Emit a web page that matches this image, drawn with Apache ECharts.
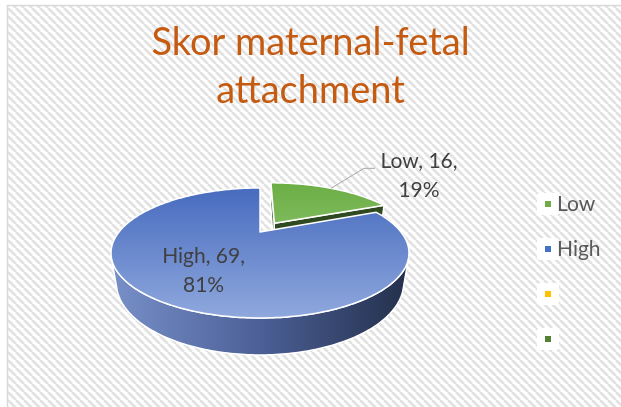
<!DOCTYPE html>
<html>
<head>
<meta charset="utf-8">
<script src="https://cdn.jsdelivr.net/npm/echarts@6/dist/echarts.min.js"></script>
<style>
  html, body { margin: 0; padding: 0; background: #ffffff; }
  #chart { width: 621px; height: 407px; }
</style>
</head>
<body>
<div id="chart"></div>
<script>
// Categories and counts of the maternal-fetal attachment score
const categories = ['Low', 'High', ' ', '  '];
const counts = [16, 69, 0, 0];
const titleLines = ['Skor maternal-fetal', 'attachment'];

// Styling
const palette = ['#70ad47', '#4472c4', '#ffc000', '#548235'];
const FONT = 'Lato, "Open Sans", sans-serif';

const total = counts.reduce((a, b) => a + b, 0);
const starts = [];
let running = 0;
counts.forEach(v => { starts.push(running); running += v; });

// 3D pie geometry (screen pixels) and perspective camera
const PIE = {
  cxFrac: 0.4187, cyFrac: 0.570,
  radius: 141, depth: 32, camDist: 398, tilt: 24.4,
  explodeSmall: 27
};
const sinA = Math.sin(PIE.tilt * Math.PI / 180);
const cosA = Math.cos(PIE.tilt * Math.PI / 180);

// Face colours per slice: top gradient, wall gradient
const faceStyles = {
  Low: { top: ['#6cae46', '#a8d68d'], wall: ['#4d7336', '#2f4a20'] },
  High: { top: ['#4569bd', '#90a9de'], wall: ['#7890c8', '#4c6097', '#232f4a'] }
};

function makeHatch() {
  const c = document.createElement('canvas');
  c.width = 8; c.height = 8;
  const g = c.getContext('2d');
  g.fillStyle = '#ffffff';
  g.fillRect(0, 0, 8, 8);
  g.strokeStyle = '#e2e2e2';
  g.lineWidth = 2.7;
  g.beginPath();
  [-8, 0, 8].forEach(o => { g.moveTo(o, 0); g.lineTo(o + 8, 8); });
  g.stroke();
  return c;
}

function renderSlice(params, api) {
  const value = api.value(0);
  if (!value) return null;
  const startVal = api.value(1);
  const name = categories[params.dataIndex];
  const W = api.getWidth(), Hh = api.getHeight();
  const cx = W * PIE.cxFrac, cy = Hh * PIE.cyFrac;
  const R = PIE.radius, T = PIE.depth, D = PIE.camDist;

  const project = (x, y, z) => {
    const yv = y * cosA + z * sinA;
    const zv = z * cosA - y * sinA;
    const f = D / (D + zv);
    return [cx + x * f, cy - yv * f];
  };

  // angles clockwise from 12 o'clock
  const t0 = startVal / total * Math.PI * 2;
  const t1 = (startVal + value) / total * Math.PI * 2;
  const tm = (t0 + t1) / 2;
  const share = value / total;
  const ex = share < 0.25 ? PIE.explodeSmall : 0;
  const ox = ex * Math.sin(tm), oz = ex * Math.cos(tm);

  const rim = (t, y, r) => project(ox + (r || R) * Math.sin(t), y, oz + (r || R) * Math.cos(t));
  const steps = Math.max(8, Math.ceil((t1 - t0) / (Math.PI / 180)));
  const arc = (y, from, to) => {
    const pts = [];
    const n = Math.max(2, Math.ceil(Math.abs(to - from) / (Math.PI / 180)));
    for (let k = 0; k <= n; k++) pts.push(rim(from + (to - from) * k / n, y));
    return pts;
  };

  const st = faceStyles[name] || { top: [palette[params.dataIndex], palette[params.dataIndex]], wall: ['#555', '#333'] };
  const yTop = cy - R * sinA * 0.76 - 4, yBot = cy + R * sinA * 1.48 + 2;
  const topFill = new echarts.graphic.LinearGradient(0, yTop, 0, yBot,
    [{ offset: 0, color: st.top[0] }, { offset: 1, color: st.top[1] }], true);
  const wallStops = st.wall.map((c, k) => ({ offset: k / (st.wall.length - 1), color: c }));
  const wallFill = new echarts.graphic.LinearGradient(cx - R * 1.06, 0, cx + R * 1.06, 0, wallStops, true);

  const children = [];
  const edge = { stroke: '#ffffff', lineWidth: 1.5, lineJoin: 'round' };

  // radial faces that face the camera
  const camZ = -D * cosA;
  [[t0, -1], [t1, 1]].forEach(([t, s]) => {
    const nx = s * Math.cos(t), nz = -s * Math.sin(t);
    const dot = nx * (-ox) + nz * (camZ - oz);
    if (dot > 0) {
      children.push({
        type: 'polygon',
        shape: { points: [project(ox, 0, oz), rim(t, 0), rim(t, -T), project(ox, -T, oz)] },
        style: Object.assign({ fill: st.wall[st.wall.length - 1] }, edge)
      });
    }
  });

  // outer wall, only where it faces the camera
  const visible = t => (-R - Math.sin(t) * ox - Math.cos(t) * (-camZ + oz)) > 0;
  let run = null;
  const runs = [];
  for (let k = 0; k <= steps; k++) {
    const t = t0 + (t1 - t0) * k / steps;
    if (visible(t)) {
      if (!run) { run = [t, t]; runs.push(run); }
      run[1] = t;
    } else run = null;
  }
  runs.forEach(([a, b]) => {
    if (b - a < 1e-4) return;
    const pts = arc(0, a, b).concat(arc(-T, b, a));
    children.push({ type: 'polygon', shape: { points: pts }, style: Object.assign({ fill: wallFill }, edge) });
  });

  // top face
  const topPts = [project(ox, 0, oz)].concat(arc(0, t0, t1));
  children.push({ type: 'polygon', shape: { points: topPts }, style: Object.assign({ fill: topFill }, edge) });

  // data label: name, count, percent
  const label = name + ', ' + value + ',\n' + Math.round(share * 100) + '%';
  const textStyle = { text: label, fill: '#404040', font: '21px ' + FONT, align: 'center', verticalAlign: 'middle', lineHeight: 29 };
  if (ex > 0) {
    const p = rim(tm, 0);
    const knee = [p[0] + 33, p[1] - 20];
    const end = [knee[0] + 11, knee[1]];
    children.push({ type: 'polyline', shape: { points: [p, knee, end] }, style: { stroke: '#a6a6a6', lineWidth: 1, fill: null } });
    children.push({ type: 'text', x: end[0] + 44, y: end[1] + 7, style: textStyle });
  } else {
    const r = 0.62 * R;
    const p = project(ox + r * Math.sin(tm), 0, oz + r * Math.cos(tm));
    children.push({ type: 'text', x: p[0] + 2, y: p[1] + 3, style: textStyle });
  }

  return { type: 'group', children };
}

const chart = echarts.init(document.getElementById('chart'), null, { renderer: 'canvas' });
const hatch = makeHatch();

const LEG = { left: 545, top: 192, step: 45 };

const graphics = [{
  type: 'rect', z: -10, silent: true,
  shape: { x: 7.5, y: 5.5, width: 700, height: 500 },
  style: { fill: { image: hatch, repeat: 'repeat' }, stroke: '#d9d9d9', lineWidth: 1.5 }
}];
categories.forEach((c, i) => {
  graphics.push({
    type: 'rect', z: -5, silent: true,
    shape: { x: LEG.left - 8, y: LEG.top + i * LEG.step + 1, width: 22, height: 22, r: 3 },
    style: { fill: '#ffffff' }
  });
});

chart.setOption({
  backgroundColor: '#ffffff',
  animation: false,
  title: {
    text: titleLines.join('\n'),
    left: 'center',
    top: 14,
    textStyle: { fontFamily: FONT, fontSize: 38, fontWeight: 'normal', color: '#c55a11', lineHeight: 48 }
  },
  graphic: graphics,
  legend: {
    orient: 'vertical',
    left: LEG.left,
    top: LEG.top,
    padding: 0,
    data: categories,
    icon: 'rect',
    itemWidth: 6,
    itemHeight: 6,
    itemGap: LEG.step - 24,
    selectedMode: false,
    textStyle: { fontFamily: FONT, fontSize: 21, color: '#595959', lineHeight: 24, padding: [0, 0, 0, 1] }
  },
  series: [
    {
      // supplies legend swatches for every category
      type: 'pie',
      radius: [0, 0],
      center: ['42%', '57%'],
      silent: true,
      color: palette,
      label: { show: false },
      labelLine: { show: false },
      data: categories.map((n, i) => ({ name: n, value: counts[i] }))
    },
    {
      type: 'custom',
      coordinateSystem: 'none',
      renderItem: renderSlice,
      data: categories.map((n, i) => ({ name: n, value: [counts[i], starts[i]] }))
    }
  ]
});
</script>
</body>
</html>
